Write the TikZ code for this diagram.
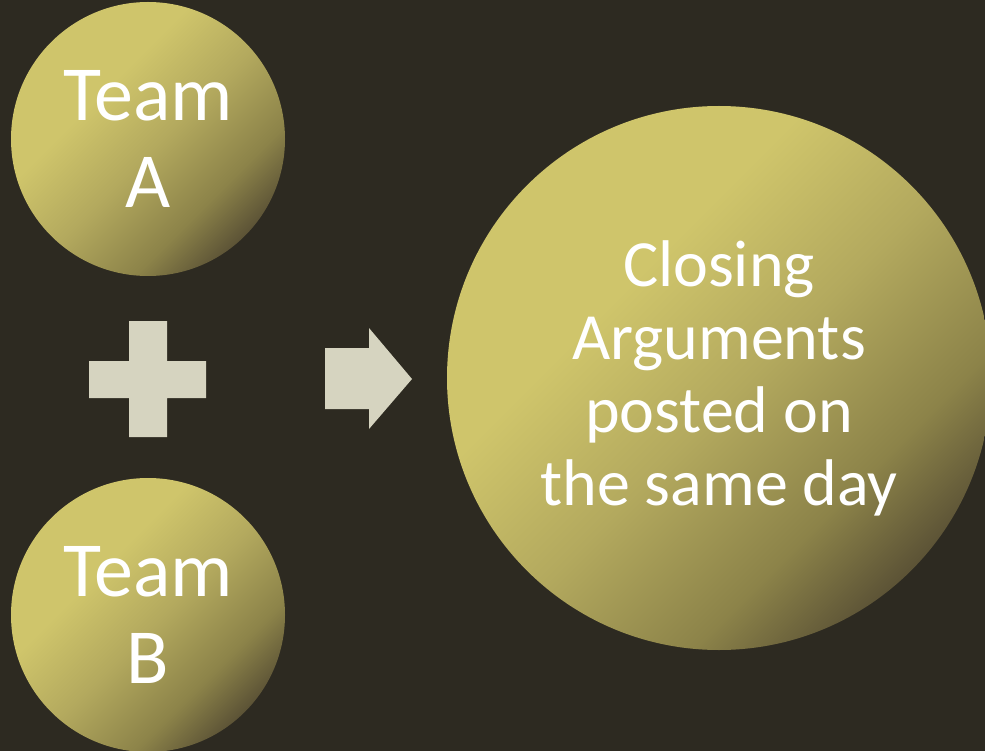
\documentclass[tikz,border=0pt]{standalone}
\usepackage{fontspec}
\setmainfont{Carlito}

\definecolor{bgdark}{HTML}{2D2A21}
\definecolor{goldlight}{HTML}{CFC56B}
\definecolor{goldmid}{HTML}{B3A95E}
\definecolor{goldlow}{HTML}{8C8349}
\definecolor{golddark}{HTML}{5C5336}
\definecolor{signfill}{HTML}{D6D4C0}

\pgfdeclarehorizontalshading{goldball}{100bp}{color(0bp)=(goldlight); color(25bp)=(goldlight); color(38bp)=(goldlight); color(52bp)=(goldmid); color(66bp)=(goldlow); color(75bp)=(golddark); color(100bp)=(golddark)}

\begin{document}
\begin{tikzpicture}[x=1pt, y=-1pt,
    ball/.style={circle, shading=goldball, shading angle=-45, text=white,
      align=center, inner sep=0pt},
    signshape/.style={fill=signfill}]
  \fill[bgdark, use as bounding box] (0,0) rectangle (985,751);
  \node[ball, minimum size=274pt, font=\fontsize{78pt}{87pt}\selectfont] (teamA) at (148,139) {Team\\A};
  \node[ball, minimum size=274pt, font=\fontsize{78pt}{87pt}\selectfont] (teamB) at (148,615) {Team\\B};
  \node[ball, minimum size=544pt, font=\fontsize{66pt}{73pt}\selectfont] (closing) at (719,378)
    {Closing\\Arguments\\posted on\\the same day};
  \fill[signshape] (129,321) -- (167,321) -- (167,361) -- (206,361) -- (206,398) -- (167,398)
    -- (167,437) -- (129,437) -- (129,398) -- (89,398) -- (89,361) -- (129,361) -- cycle;
  \fill[signshape] (325,348) -- (369,348) -- (369,328) -- (412,379) -- (369,429) -- (369,409)
    -- (325,409) -- cycle;
\end{tikzpicture}
\end{document}
